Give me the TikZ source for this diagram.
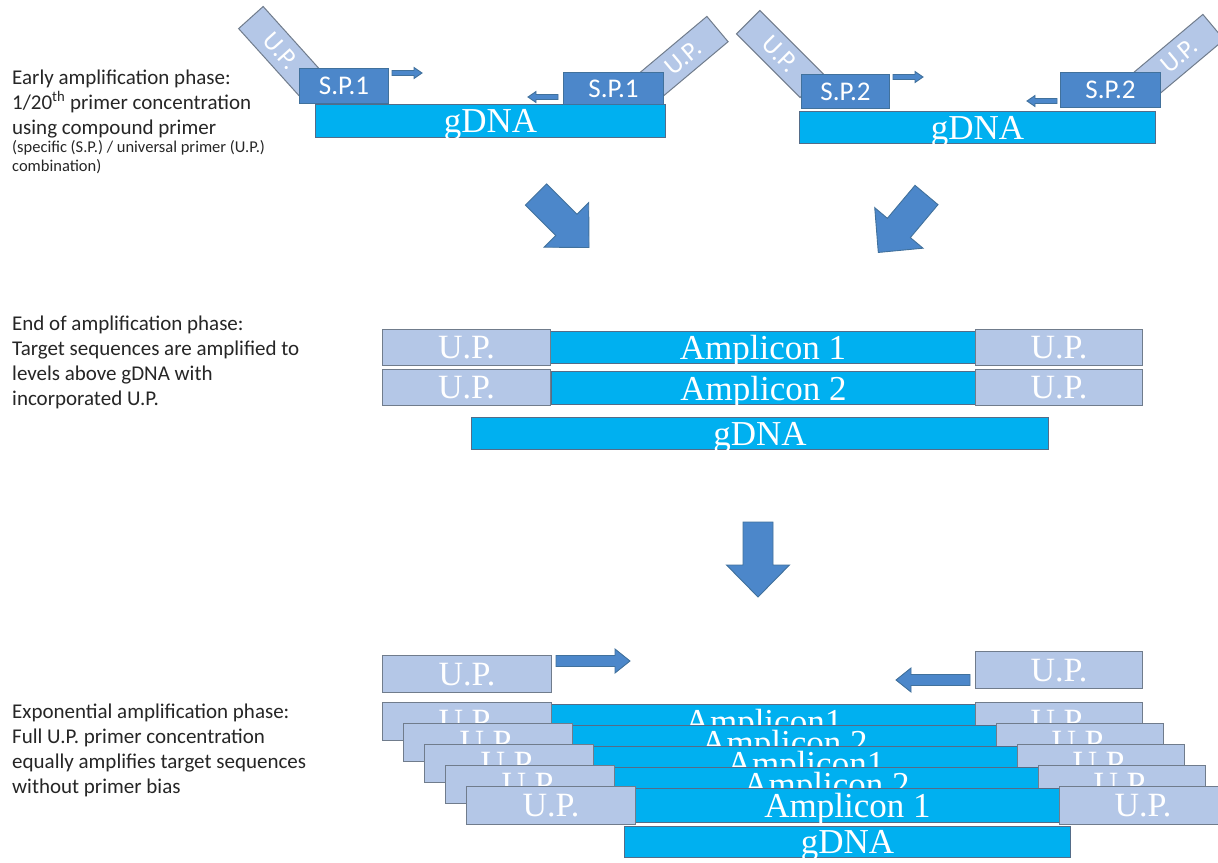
\documentclass[tikz,border=0pt]{standalone}
\usepackage{fontspec}
\newfontfamily\calibri{Carlito}
\newfontfamily\barfont{Liberation Serif}
\usepackage{xcolor}
\usetikzlibrary{positioning}
\definecolor{dnablue}{RGB}{0,176,240}
\definecolor{dnaline}{RGB}{84,108,136}
\definecolor{upfill}{RGB}{180,199,231}
\definecolor{upline}{RGB}{112,124,140}
\definecolor{spfill}{RGB}{76,135,202}
\definecolor{spline}{RGB}{65,113,156}
\definecolor{txt}{RGB}{38,38,38}
\tikzset{
  pics/blockarr/.style n args={4}{code={
    \draw[draw=spline,fill=spfill,line width=0.9pt,line join=miter]
      (0,-#2/2) -- (#1-#4,-#2/2) -- (#1-#4,-#3/2) -- (#1,0)
      -- (#1-#4,#3/2) -- (#1-#4,#2/2) -- (0,#2/2) -- cycle;}}
}
\begin{document}
\begin{tikzpicture}[x=1pt,y=-1pt,
  dna/.style={draw=dnaline,fill=dnablue,line width=1pt,text=white,inner sep=0pt,
    anchor=north west,text depth=0pt,font=\barfont\fontsize{35}{35}\selectfont},
  up/.style={draw=upline,fill=upfill,line width=1pt,text=white,inner sep=0pt,
    anchor=north west,text depth=0pt,font=\barfont\fontsize{34}{34}\selectfont},
  sp/.style={draw=spline,fill=spfill,line width=1pt,text=white,inner sep=0pt,
    anchor=north west,font=\calibri\fontsize{27}{27}\selectfont},
  tilt/.style={draw=upline,fill=upfill,line width=1pt,text=white,inner sep=0pt,
    minimum width=90pt,minimum height=33pt,font=\calibri\fontsize{26}{26}\selectfont},
  note/.style={anchor=base west,align=left,text=txt,inner sep=0pt,
    font=\calibri\fontsize{21}{24.7}\selectfont},
  small/.style={anchor=base west,align=left,text=txt,inner sep=0pt,
    font=\calibri\fontsize{16.5}{19}\selectfont}]
  \fill[white] (0,0) rectangle (1218,862);
  \useasboundingbox (0,0) rectangle (1218,862);

  % phase notes (anchored on their last line)
  \node[note] (early) at (12,134) {Early amplification phase:\\1/20\textsuperscript{th} primer concentration\\using compound primer};
  \node[small] (earlynote) at (12,171) {(specific (S.P.) / universal primer (U.P.)\\combination)};
  \node[note] (late) at (12,405) {End of amplification phase:\\Target sequences are amplified to\\levels above gDNA with\\incorporated U.P.};
  \node[note] (expo) at (12,793) {Exponential amplification phase:\\Full U.P. primer concentration\\equally amplifies target sequences\\without primer bias};

  % compound primers on gDNA
  \node[tilt,rotate=-48] (upa1) at (281,51) {U.P.};
  \node[tilt,rotate=40] (upb1) at (683,58) {U.P.};
  \node[dna,minimum width=350pt,minimum height=33pt] (g1) at (315,104) {gDNA};
  \node[sp,minimum width=89pt,minimum height=35pt] (spa1) at (299,68) {S.P.1};
  \node[sp,minimum width=100pt,minimum height=32pt] (spb1) at (563,72) {S.P.1};
  \pic at (392,73) {blockarr={30}{5}{11}{8}};
  \pic[rotate=180] at (558,97) {blockarr={30}{5}{11}{8}};

  \node[tilt,rotate=-45] (upa2) at (780,54) {U.P.};
  \node[tilt,rotate=40] (upb2) at (1179,56) {U.P.};
  \node[dna,minimum width=356pt,minimum height=32pt] (g2) at (799,111) {gDNA};
  \node[sp,minimum width=88pt,minimum height=34pt] (spa2) at (801,74) {S.P.2};
  \node[sp,minimum width=100pt,minimum height=35pt] (spb2) at (1060,72) {S.P.2};
  \pic at (893,77) {blockarr={30}{5}{11}{8}};
  \pic[rotate=180] at (1057,101) {blockarr={30}{5}{11}{8}};

  % big arrows
  \pic[rotate=-45] at (536,194.5) {blockarr={75}{30}{63}{32}};
  \pic[rotate=-130] at (926.5,195) {blockarr={75}{30}{63}{32}};
  \pic[rotate=-90] at (758,522) {blockarr={75}{30}{63}{32}};

  % amplicons after early phase
  \node[dna,minimum width=425pt,minimum height=32pt] (amp1) at (550,331) {Amplicon 1};
  \node[up,minimum width=168pt,minimum height=36pt] (upl1) at (382,329) {U.P.};
  \node[up,minimum width=167pt,minimum height=36pt] (upr1) at (975,329) {U.P.};
  \node[dna,minimum width=424pt,minimum height=33pt] (amp2) at (551,371) {Amplicon 2};
  \node[up,minimum width=168pt,minimum height=36pt] (upl2) at (382,369) {U.P.};
  \node[up,minimum width=167pt,minimum height=36pt] (upr2) at (975,369) {U.P.};
  \node[dna,minimum width=577pt,minimum height=32pt] (g3) at (471,417) {gDNA};

  % exponential phase
  \node[up,minimum width=169pt,minimum height=37pt] (upfree1) at (382,655) {U.P.};
  \node[up,minimum width=167pt,minimum height=37pt] (upfree2) at (975,651) {U.P.};
  \pic at (556,661) {blockarr={74}{11}{24}{15}};
  \pic[rotate=180] at (970,680) {blockarr={74}{11}{24}{15}};
  \foreach \i/\lab in {0/Amplicon1,1/Amplicon 2,2/Amplicon1,3/Amplicon 2,4/Amplicon 1}{
    \node[dna,minimum width=424pt,minimum height=34pt] (ampx\i) at (551+21*\i,704+21*\i) {\lab};
    \node[up,minimum width=169pt,minimum height=38pt] (upx\i) at (382+21*\i,702+21*\i) {U.P.};
    \node[up,minimum width=167pt,minimum height=38pt] (upy\i) at (975+21*\i,702+21*\i) {U.P.};
  }
  \node[dna,minimum width=446pt,minimum height=31pt] (g4) at (624,826) {gDNA};
\end{tikzpicture}
\end{document}
